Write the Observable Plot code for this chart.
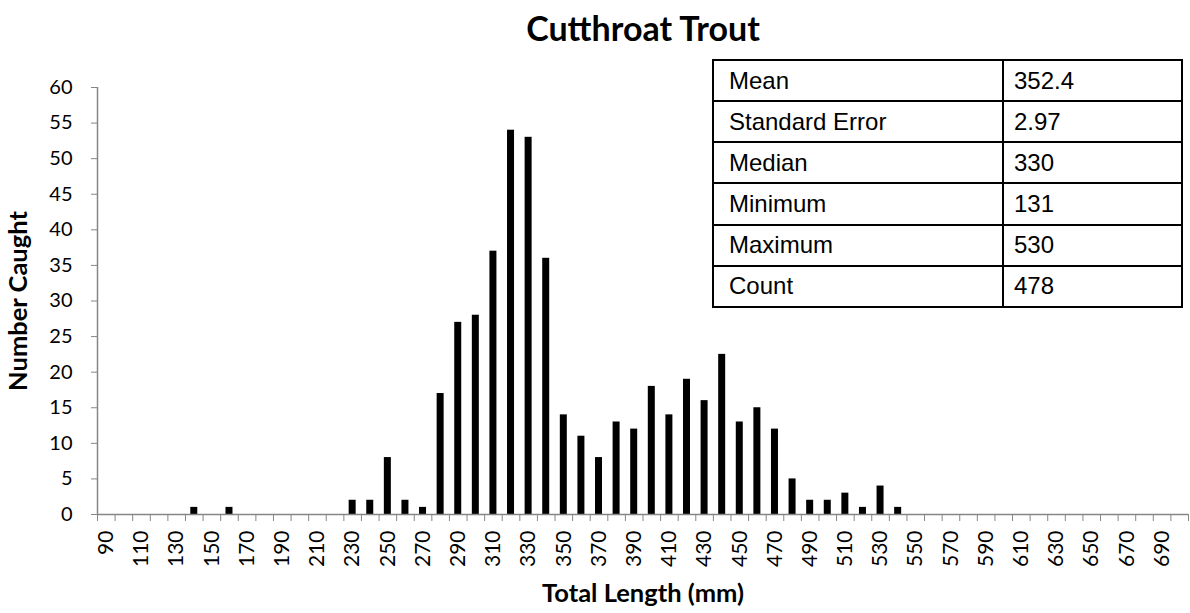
<!DOCTYPE html>
<html>
<head>
<meta charset="utf-8">
<script src="https://cdn.jsdelivr.net/npm/d3@7"></script>
<script src="https://cdn.jsdelivr.net/npm/@observablehq/plot@0.6"></script>
<style>
  html, body { margin: 0; padding: 0; background: #fff; }
  #wrap { position: relative; width: 1190px; height: 613px; overflow: hidden; }
  #stats { position: absolute; left: 712px; top: 59px; width: 471px; height: 249px;
           border-collapse: collapse; font-family: "Liberation Sans", Arial, sans-serif;
           font-size: 24px; color: #000; background: #fff; }
  #stats td { border: 2px solid #000; padding: 0 0 0 15px; height: 39px; line-height: 24px; }
  #stats td.v { padding-left: 10px; width: 167px; }
</style>
</head>
<body>
<div id="wrap"><div id="chart"></div><table id="stats"></table></div>
<script>
// ---- data ----
const lengths = [90,100,110,120,130,140,150,160,170,180,190,200,210,220,230,240,250,260,270,280,
                 290,300,310,320,330,340,350,360,370,380,390,400,410,420,430,440,450,460,470,480,
                 490,500,510,520,530,540,550,560,570,580,590,600,610,620,630,640,650,660,670,680,
                 690,700];
const counts  = [0,0,0,0,0,1,0,1,0,0,0,0,0,0,2,2,8,2,1,17,
                 27,28,37,54,53,36,14,11,8,13,12,18,14,19,16,22.5,13,15,12,5,
                 2,2,3,1,4,1,0,0,0,0,0,0,0,0,0,0,0,0,0,0,
                 0,0];
const xTickLabels = [90,110,130,150,170,190,210,230,250,270,290,310,330,350,370,390,410,430,450,470,
                     490,510,530,550,570,590,610,630,650,670,690];
const yTickLabels = [0,5,10,15,20,25,30,35,40,45,50,55,60];
const statNames  = ["Mean","Standard Error","Median","Minimum","Maximum","Count"];
const statValues = ["352.4","2.97","330","131","530","478"];
const title = "Cutthroat Trout";
const xTitle = "Total Length (mm)";
const yTitle = "Number Caught";

// ---- build ----
const data = lengths.map((l, i) => ({length: l, count: counts[i]}));
const binWidth = lengths[1] - lengths[0];
const boundaries = lengths.map(l => l - binWidth / 2).concat([lengths[lengths.length - 1] + binWidth / 2]);
const font = "Lato, 'Open Sans', sans-serif";
const grey = "#868686";

const chart = Plot.plot({
  width: 1190,
  height: 613,
  marginLeft: 97,
  marginRight: 2,
  marginTop: 87,
  marginBottom: 99,
  style: {fontFamily: font, background: "#fff", color: "#000"},
  x: {type: "linear", domain: [boundaries[0], boundaries[boundaries.length - 1]], axis: null},
  y: {domain: [0, 60], axis: null},
  marks: [
    Plot.rectY(data.filter(d => d.count > 0), {
      x1: d => d.length - binWidth / 2, x2: d => d.length + binWidth / 2, y: "count",
      fill: "#000", insetLeft: 5.3, insetRight: 5.3
    }),
    Plot.axisY({ticks: yTickLabels, tickSize: 6, tickFormat: () => "", stroke: grey, strokeOpacity: 1, label: null}),
    Plot.axisY({ticks: yTickLabels, tickSize: 0, tickPadding: 25, fontSize: 20, fill: "#000", label: null}),
    Plot.axisX({ticks: boundaries, tickSize: 7, tickFormat: () => "", stroke: grey, strokeOpacity: 1, label: null}),
    Plot.axisX({ticks: xTickLabels, tickSize: 0, tickPadding: 16, tickRotate: -90, fontSize: 21, fill: "#000", label: null}),
    Plot.ruleY([0], {stroke: grey, strokeWidth: 1.5}),
    Plot.ruleX([boundaries[0]], {stroke: grey, strokeWidth: 1.5}),
    Plot.text([title], {frameAnchor: "top", lineAnchor: "middle", dy: -57, fontSize: 34, fontWeight: "bold", text: d => d}),
    Plot.text([yTitle], {frameAnchor: "left", textAnchor: "middle", lineAnchor: "middle", dx: -79, rotate: -90, fontSize: 25.5, fontWeight: "bold", text: d => d}),
    Plot.text([xTitle], {frameAnchor: "bottom", textAnchor: "middle", lineAnchor: "middle", dy: 79, fontSize: 25.5, fontWeight: "bold", text: d => d})
  ]
});
document.getElementById("chart").appendChild(chart);

const table = document.getElementById("stats");
statNames.forEach((name, i) => {
  const tr = document.createElement("tr");
  const a = document.createElement("td"); a.textContent = name;
  const b = document.createElement("td"); b.textContent = statValues[i]; b.className = "v";
  tr.appendChild(a); tr.appendChild(b);
  table.appendChild(tr);
});
</script>
</body>
</html>
